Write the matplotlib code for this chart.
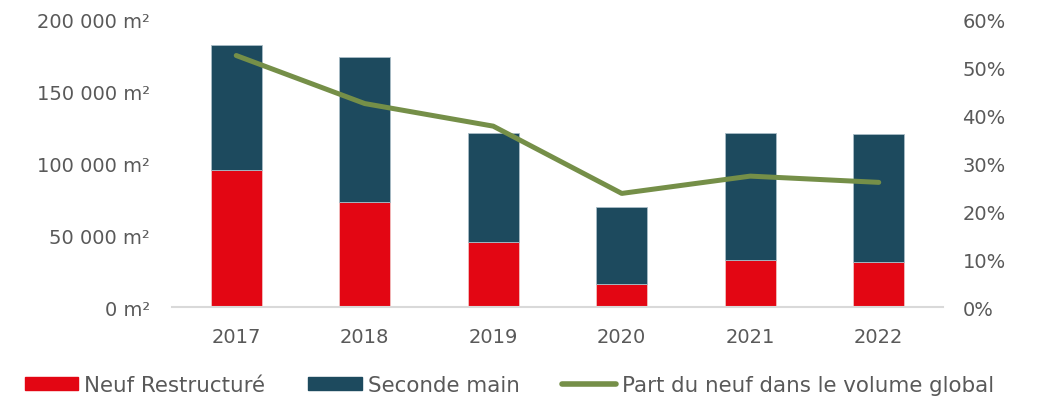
import matplotlib
matplotlib.use("Agg")
import matplotlib.pyplot as plt
from matplotlib.ticker import FuncFormatter
from matplotlib.patches import Patch
from matplotlib.lines import Line2D

years = ["2017", "2018", "2019", "2020", "2021", "2022"]
neuf = [95000, 73000, 45300, 16200, 32600, 31200]
seconde = [87000, 100400, 75600, 53200, 88100, 89000]
part = [52.4, 42.4, 37.7, 23.7, 27.3, 26.0]

plt.rcParams['font.family'] = ['DejaVu Sans']
txt = '#595959'
red = '#e30613'
blue = '#1d4a5e'
green = '#758f48'

fig = plt.figure(figsize=(10.38, 4.02), dpi=100)
ax = fig.add_axes([172/1038, 1-308.3/402, (943-172)/1038, (308.3-20)/402])
x = list(range(len(years)))
ax.bar(x, neuf, width=0.4, color=red, edgecolor='#f0c0c0', linewidth=0.6, zorder=2)
ax.bar(x, seconde, bottom=neuf, width=0.4, color=blue, edgecolor='#a9bcc6', linewidth=0.6, zorder=2)
ax.set_xlim(-0.5, 5.5)
ax.set_ylim(0, 200000)
ax.set_yticks(range(0, 200001, 50000))
ax.yaxis.set_major_formatter(FuncFormatter(lambda v, p: f"{int(v):,}".replace(",", " ") + " m²"))
ax.set_xticks(x)
ax.set_xticklabels(years)
for s in ['top', 'right', 'left']:
    ax.spines[s].set_visible(False)
ax.spines['bottom'].set_color('#d9d9d9')
ax.spines['bottom'].set_linewidth(1.5)
ax.tick_params(axis='both', length=0, labelsize=14, labelcolor=txt)
ax.tick_params(axis='y', pad=16)
ax.tick_params(axis='x', pad=14)

ax2 = ax.twinx()
ax2.plot(x, part, color=green, linewidth=3.6, solid_capstyle='round', solid_joinstyle='round', zorder=3)
ax2.set_ylim(0, 60)
ax2.set_yticks(range(0, 61, 10))
ax2.yaxis.set_major_formatter(FuncFormatter(lambda v, p: f"{int(v)}%"))
for s in ['top', 'right', 'left', 'bottom']:
    ax2.spines[s].set_visible(False)
ax2.tick_params(axis='y', length=0, labelsize=14, labelcolor=txt, pad=14)

handles = [Patch(color=red), Patch(color=blue), Line2D([0], [0], color=green, linewidth=4, solid_capstyle='round')]
labels = ["Neuf Restructuré", "Seconde main", "Part du neuf dans le volume global"]
fig.legend(handles, labels, loc='center left', bbox_to_anchor=(25/1038, 1-386/402), ncol=3,
           frameon=False, fontsize=15.4, labelcolor=txt, handlelength=2.5, handleheight=0.5,
           handletextpad=0.28, columnspacing=2.0, borderpad=0, borderaxespad=0)

fig.savefig("out.png", dpi=100)
